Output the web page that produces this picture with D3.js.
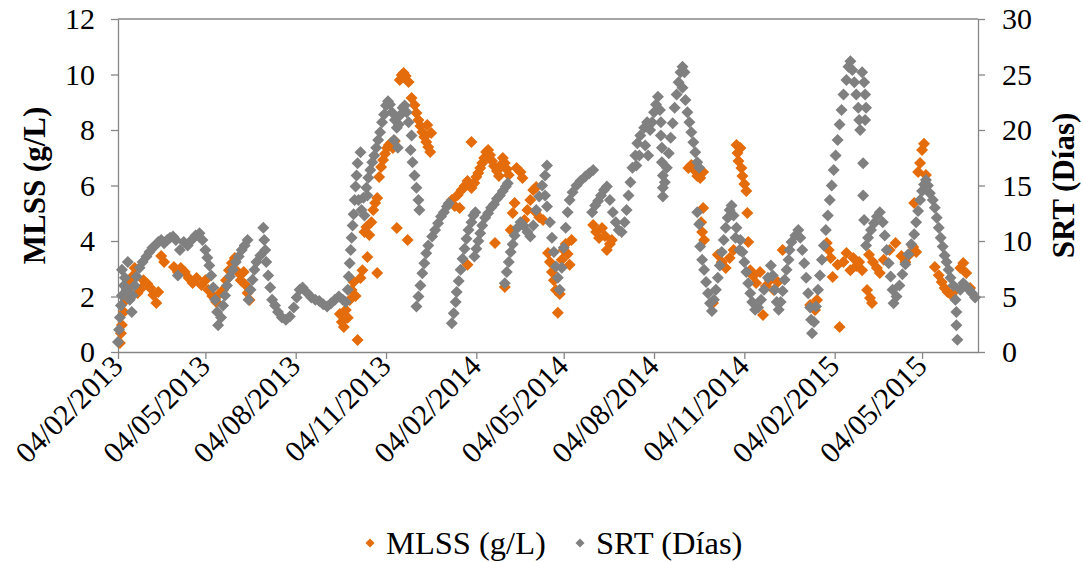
<!DOCTYPE html>
<html>
<head>
<meta charset="utf-8">
<script src="https://cdn.jsdelivr.net/npm/d3@7"></script>
<style>
  body { margin: 0; background: #fff; }
  svg { display: block; font-family: "Liberation Serif", "Times New Roman", serif; }
</style>
</head>
<body>
<div id="chart"></div>
<script>
// Axis range and labels
const startDate = '04/02/2013';
const endDate = '30/06/2015';
const xTickLabels = ['04/02/2013', '04/05/2013', '04/08/2013', '04/11/2013', '04/02/2014',
  '04/05/2014', '04/08/2014', '04/11/2014', '04/02/2015', '04/05/2015'];
const mlssTicks = [0, 2, 4, 6, 8, 10, 12];
const srtTicks = [0, 5, 10, 15, 20, 25, 30];

// MLSS (g/L): days since 04/02/2013 and values
const mlssDays = [
  2, 3, 4, 6, 8, 9, 11, 13, 15, 17,
  20, 23, 26, 30, 33, 36, 39, 41, 44, 47,
  57, 61, 64, 68, 72, 76, 80, 85, 89, 92,
  96, 100, 103, 107, 110, 113, 116, 119, 122, 125,
  128, 130, 132, 134, 226, 228, 230, 232, 234, 236,
  238, 240, 242, 244, 247, 249, 251, 253, 254, 256,
  258, 260, 262, 264, 264, 266, 268, 270, 272, 274,
  276, 278, 280, 282, 284, 287, 289, 291, 293, 295,
  296, 299, 302, 304, 306, 308, 310, 312, 314, 316,
  318, 315, 319, 340, 343, 346, 348, 350, 353, 356,
  356, 360, 360, 363, 365, 367, 369, 371, 373, 375,
  377, 379, 381, 383, 384, 386, 388, 390, 392, 394,
  394, 396, 398, 400, 402, 404, 406, 410, 412, 414,
  417, 420, 423, 426, 425, 429, 433, 438, 440, 442,
  444, 446, 448, 450, 452, 454, 456, 458, 460, 462,
  484, 487, 490, 493, 496, 498, 501, 503, 581, 584,
  587, 590, 593, 596, 596, 594, 595, 597, 606, 611,
  615, 619, 623, 627, 630, 631, 632, 634, 635, 636,
  638, 640, 641, 642, 644, 647, 650, 654, 657, 660,
  664, 668, 672, 677, 705, 710, 712, 722, 724, 726,
  728, 733, 735, 739, 742, 746, 749, 752, 755, 758,
  763, 766, 768, 765, 769, 773, 776, 780, 786, 792,
  798, 802, 806, 810, 813, 811, 815, 817, 819, 821,
  823, 832, 836, 839, 842, 845, 849, 853, 858, 861,
  864, 868
];
const mlssValues = [
  0.32, 0.68, 0.97, 1.44, 1.87, 2.23, 2.56, 2.38, 2.74, 3.03,
  2.13, 2.27, 2.59, 2.45, 2.31, 2.05, 1.77, 2.16, 3.46, 3.24,
  3.06, 2.88, 3.03, 2.88, 2.67, 2.49, 2.67, 2.41, 2.59, 2.23,
  2.02, 1.80, 2.09, 2.23, 2.59, 2.95, 3.21, 3.39, 2.88, 2.59,
  2.88, 2.41, 2.13, 1.87, 1.37, 1.08, 0.90, 1.51, 1.23, 1.87,
  2.23, 2.52, 2.02, 0.43, 2.67, 2.95, 4.32, 4.50, 3.42, 4.22,
  4.68, 5.12, 5.37, 2.85, 5.55, 6.31, 6.67, 6.92, 7.14, 7.35,
  7.46, 7.53, 7.35, 7.60, 4.47, 9.80, 9.98, 10.05, 9.95, 4.04,
  9.73, 9.15, 8.90, 8.61, 8.36, 8.14, 7.93, 7.75, 7.57, 7.39,
  7.21, 8.18, 7.89, 5.48, 5.26, 5.66, 5.19, 5.84, 5.98, 3.14,
  6.16, 5.91, 7.57, 6.09, 6.31, 6.45, 6.63, 6.81, 6.99, 7.21,
  7.28, 7.10, 6.88, 6.70, 3.93, 6.52, 6.34, 6.74, 6.99, 6.81,
  2.34, 6.59, 6.38, 4.40, 5.01, 5.37, 6.63, 6.49, 6.27, 4.76,
  5.12, 5.48, 5.84, 5.95, 5.05, 4.86, 4.76, 3.57, 3.24, 2.88,
  2.59, 2.23, 1.41, 2.09, 3.32, 3.68, 3.89, 3.53, 3.14, 4.04,
  4.58, 4.32, 4.11, 4.47, 4.18, 3.68, 3.89, 4.04, 6.63, 6.74,
  6.56, 6.34, 6.27, 6.49, 5.19, 4.68, 4.32, 4.04, 1.77, 3.50,
  3.24, 3.03, 3.39, 3.68, 7.46, 7.17, 6.88, 7.35, 6.63, 6.34,
  6.05, 5.80, 5.01, 3.96, 2.95, 2.74, 2.49, 2.88, 1.33, 2.38,
  2.59, 2.23, 2.52, 3.68, 1.69, 1.51, 1.87, 3.93, 3.68, 3.39,
  2.70, 3.14, 0.90, 3.24, 3.57, 2.95, 3.39, 3.10, 3.24, 2.95,
  2.23, 1.95, 1.77, 3.50, 3.24, 3.03, 2.85, 3.32, 3.68, 3.93,
  3.46, 3.24, 3.50, 3.78, 3.60, 5.37, 6.49, 6.81, 7.28, 7.50,
  6.38, 3.06, 2.77, 2.52, 2.31, 2.16, 2.05, 2.23, 3.03, 3.21,
  2.85, 2.31
];

// SRT (Días): days since 04/02/2013 and values
const srtDays = [
  0, 1, 2, 3, 4, 4, 6, 7, 9, 10,
  12, 14, 15, 17, 19, 22, 25, 29, 32, 35,
  38, 41, 44, 47, 50, 53, 56, 59, 61, 63,
  67, 71, 75, 79, 83, 86, 89, 91, 93, 95,
  97, 99, 101, 102, 105, 107, 109, 111, 114, 117,
  120, 123, 126, 129, 132, 133, 135, 137, 139, 141,
  145, 148, 149, 150, 151, 153, 155, 157, 160, 163,
  167, 171, 175, 179, 182, 185, 188, 193, 197, 201,
  205, 209, 213, 217, 221, 225, 229, 232, 234, 235,
  236, 237, 238, 239, 240, 241, 242, 243, 244, 247,
  245, 248, 250, 253, 255, 257, 259, 261, 263, 265,
  267, 269, 271, 273, 275, 277, 279, 282, 284, 286,
  288, 290, 292, 294, 296, 298, 299, 300, 302, 304,
  306, 307, 251, 254, 281, 285, 304, 306, 308, 310,
  312, 314, 316, 320, 323, 326, 329, 332, 335, 337,
  340, 342, 344, 345, 347, 349, 351, 353, 355, 357,
  360, 362, 364, 363, 365, 367, 369, 371, 374, 377,
  380, 383, 386, 389, 392, 395, 397, 394, 396, 398,
  400, 402, 404, 407, 410, 413, 417, 420, 423, 426,
  429, 432, 435, 437, 435, 437, 440, 442, 444, 446,
  448, 450, 452, 454, 456, 458, 460, 463, 467, 471,
  476, 480, 484, 483, 486, 489, 492, 495, 498, 501,
  504, 507, 510, 513, 516, 518, 520, 522, 524, 527,
  529, 532, 528, 531, 537, 540, 536, 539, 542, 544,
  546, 548, 550, 552, 553, 553, 554, 554, 555, 555,
  555, 557, 559, 561, 563, 565, 567, 569, 571, 573,
  575, 577, 578, 580, 582, 584, 586, 588, 590, 592,
  575, 590, 592, 593, 595, 597, 599, 601, 603, 605,
  607, 609, 611, 613, 615, 617, 619, 621, 623, 625,
  627, 630, 634, 636, 638, 629, 633, 640, 642, 644,
  646, 649, 652, 655, 658, 662, 665, 667, 669, 671,
  673, 675, 677, 679, 681, 683, 684, 686, 690, 693,
  695, 697, 699, 701, 703, 705, 706, 707, 709, 711,
  713, 715, 717, 719, 721, 723, 725, 727, 729, 731,
  733, 735, 737, 739, 742, 744, 746, 748, 750, 752,
  754, 755, 756, 758, 760, 761, 762, 761, 759, 759,
  760, 762, 764, 767, 770, 773, 776, 779, 781, 783,
  785, 787, 789, 790, 793, 796, 799, 802, 805, 808,
  811, 813, 815, 817, 819, 821, 823, 825, 827, 830,
  832, 834, 836, 838, 840, 842, 844, 846, 848, 851,
  853, 854, 854, 855, 858, 861, 864, 867, 870, 873
];
const srtValues = [
  0.9, 2.0, 3.1, 4.2, 5.1, 7.4, 6.0, 6.7, 5.6, 8.1,
  4.7, 3.6, 5.1, 6.0, 6.8, 7.6, 8.1, 8.6, 9.0, 9.4,
  9.6, 9.9, 10.1, 9.8, 10.1, 10.3, 10.4, 10.1, 6.9, 9.2,
  9.9, 9.6, 10.1, 10.5, 10.7, 10.1, 9.2, 8.5, 7.8, 6.9,
  5.8, 4.7, 3.6, 2.4, 3.1, 4.2, 5.1, 6.0, 6.8, 7.4,
  8.1, 8.6, 9.2, 9.6, 10.1, 4.7, 5.6, 6.5, 7.4, 8.1,
  8.7, 11.2, 10.1, 9.2, 8.1, 6.9, 5.8, 4.7, 4.2, 3.6,
  3.1, 2.9, 3.2, 4.0, 4.9, 5.6, 5.8, 5.3, 4.9, 4.7,
  4.6, 4.3, 4.1, 4.4, 4.7, 5.0, 4.7, 4.5, 5.6, 6.8,
  8.0, 9.2, 10.3, 11.4, 12.4, 13.7, 14.9, 15.9, 17.0, 18.0,
  13.7, 12.8, 13.9, 14.8, 15.7, 16.4, 17.1, 17.7, 18.4, 19.1,
  19.8, 20.7, 21.4, 22.2, 22.6, 22.3, 21.6, 20.9, 20.2, 20.5,
  21.4, 22.0, 22.2, 21.6, 20.7, 18.2, 19.5, 17.1, 15.9, 14.8,
  13.7, 12.8, 12.3, 14.1, 19.1, 18.4, 4.1, 5.0, 6.0, 7.1,
  8.0, 8.9, 9.6, 10.4, 11.0, 11.6, 12.2, 12.6, 13.1, 13.4,
  2.6, 3.5, 4.5, 5.4, 6.4, 7.4, 8.4, 9.3, 10.2, 11.0,
  11.7, 12.3, 12.6, 8.6, 9.3, 10.0, 10.7, 11.4, 12.1, 12.5,
  13.0, 13.3, 13.8, 14.1, 14.5, 14.9, 15.2, 6.2, 7.2, 8.1,
  9.0, 9.7, 10.5, 11.2, 11.7, 11.4, 10.8, 10.4, 11.4, 12.8,
  14.0, 15.0, 15.9, 16.8, 14.1, 13.1, 11.7, 10.3, 9.0, 7.7,
  6.7, 5.6, 7.6, 9.4, 11.2, 12.6, 13.7, 14.4, 15.0, 15.4,
  15.8, 16.1, 16.4, 12.6, 13.2, 13.6, 14.1, 14.6, 14.9, 13.7,
  12.6, 11.7, 11.0, 10.8, 11.7, 12.8, 14.1, 15.3, 16.6, 17.7,
  18.8, 19.5, 16.8, 17.7, 18.6, 17.7, 20.2, 20.7, 20.0, 20.7,
  21.6, 22.3, 23.0, 21.8, 20.7, 19.5, 18.4, 17.1, 15.9, 14.8,
  14.0, 15.3, 16.6, 17.9, 19.3, 20.6, 22.0, 23.2, 24.3, 25.2,
  25.7, 25.2, 22.7, 21.6, 20.7, 19.8, 18.9, 18.0, 17.1, 16.6,
  23.8, 12.6, 11.5, 9.5, 8.3, 7.4, 6.3, 5.3, 4.4, 3.7,
  4.7, 5.6, 6.7, 7.8, 9.0, 10.1, 11.2, 12.1, 12.8, 13.2,
  12.3, 11.2, 10.1, 9.0, 8.1, 10.3, 9.2, 7.2, 6.2, 5.3,
  4.5, 3.8, 4.0, 4.7, 5.6, 6.7, 7.8, 6.9, 5.6, 4.5,
  3.8, 4.5, 5.5, 6.5, 7.4, 8.3, 9.2, 9.9, 10.5, 11.0,
  10.3, 9.2, 8.0, 6.7, 5.3, 4.0, 2.9, 1.7, 2.7, 4.1,
  5.6, 6.9, 8.3, 9.6, 11.0, 12.3, 13.7, 15.0, 16.4, 17.7,
  19.1, 20.5, 21.8, 23.2, 24.5, 25.7, 26.2, 25.4, 24.3, 23.2,
  22.0, 20.9, 20.0, 25.2, 24.3, 23.2, 22.0, 20.9, 17.0, 14.1,
  11.9, 9.6, 10.3, 11.0, 11.6, 12.2, 12.6, 11.7, 10.5, 9.2,
  8.0, 6.8, 5.6, 4.4, 5.0, 6.0, 7.0, 7.9, 8.8, 9.7,
  10.6, 11.7, 12.7, 13.7, 14.5, 15.1, 15.5, 15.0, 14.3, 13.7,
  13.0, 12.1, 11.2, 10.3, 9.5, 8.7, 8.1, 7.4, 6.7, 6.0,
  4.7, 3.6, 2.4, 1.1, 5.6, 6.2, 5.9, 5.6, 5.3, 4.9
];

const parseDate = d3.timeParse('%d/%m/%Y');
const start = parseDate(startDate);
const mlssData = mlssDays.map((d, i) => ({ date: d3.timeDay.offset(start, d), value: mlssValues[i] }));
const srtData = srtDays.map((d, i) => ({ date: d3.timeDay.offset(start, d), value: srtValues[i] }));

const width = 1083;
const height = 562;
const margin = { top: 19, right: 105, bottom: 210, left: 118 };
const innerWidth = width - margin.left - margin.right;
const innerHeight = height - margin.top - margin.bottom;
const fontFamily = 'Liberation Serif, Times New Roman, serif';
const axisColor = '#868686';
const mlssColor = '#E46C0A';
const srtColor = '#808080';

const svg = d3.select('#chart')
  .append('svg')
  .attr('width', width)
  .attr('height', height)
  .attr('font-family', fontFamily);

const g = svg.append('g')
  .attr('transform', `translate(${margin.left}, ${margin.top})`);

// Scales
const x = d3.scaleTime()
  .domain([start, parseDate(endDate)])
  .range([0, innerWidth]);
const yLeft = d3.scaleLinear().domain([0, 12]).range([innerHeight, 0]);
const yRight = d3.scaleLinear().domain([0, 30]).range([innerHeight, 0]);

// Plot area top border
g.append('line')
  .attr('x1', 0).attr('x2', innerWidth)
  .attr('y1', 0).attr('y2', 0)
  .attr('stroke', axisColor)
  .attr('stroke-width', 1.3);

function styleAxis(sel) {
  sel.attr('font-family', fontFamily).attr('font-size', 30);
  sel.selectAll('path, line').attr('stroke', axisColor).attr('stroke-width', 1.3);
  sel.selectAll('text').attr('fill', '#000').attr('font-family', fontFamily);
}

// Left axis
g.append('g')
  .call(d3.axisLeft(yLeft).tickValues(mlssTicks).tickSize(7).tickSizeOuter(0).tickPadding(16))
  .call(styleAxis);

// Right axis
g.append('g')
  .attr('transform', `translate(${innerWidth}, 0)`)
  .call(d3.axisRight(yRight).tickValues(srtTicks).tickSize(7).tickSizeOuter(0).tickPadding(17))
  .call(styleAxis);

// Bottom axis with rotated labels
g.append('g')
  .attr('transform', `translate(0, ${innerHeight})`)
  .call(d3.axisBottom(x)
    .tickValues(xTickLabels.map(parseDate))
    .tickFormat(d3.timeFormat('%d/%m/%Y'))
    .tickSize(7)
    .tickSizeOuter(0))
  .call(styleAxis)
  .selectAll('text')
  .attr('x', 0)
  .attr('y', 0)
  .attr('dy', null)
  .attr('text-anchor', 'end')
  .attr('transform', 'translate(6, 16) rotate(-45)');

// Markers (square rotated into a diamond)
const diamond = d3.symbol().type(d3.symbolSquare).size(72);

g.append('g')
  .selectAll('path')
  .data(mlssData)
  .join('path')
  .attr('d', diamond)
  .attr('transform', d => `translate(${x(d.date)}, ${yLeft(d.value)}) rotate(45)`)
  .attr('fill', mlssColor);

g.append('g')
  .selectAll('path')
  .data(srtData)
  .join('path')
  .attr('d', diamond)
  .attr('transform', d => `translate(${x(d.date)}, ${yRight(d.value)}) rotate(45)`)
  .attr('fill', srtColor);

// Axis titles
svg.append('text')
  .attr('transform', `translate(45, ${margin.top + innerHeight / 2}) rotate(-90)`)
  .attr('text-anchor', 'middle')
  .attr('font-size', 31)
  .attr('font-weight', 'bold')
  .text('MLSS (g/L)');

svg.append('text')
  .attr('transform', `translate(1074, ${margin.top + innerHeight / 2}) rotate(-90)`)
  .attr('text-anchor', 'middle')
  .attr('font-size', 31)
  .attr('font-weight', 'bold')
  .text('SRT (Días)');

// Legend
const legendItems = [
  { label: 'MLSS (g/L)', color: mlssColor, x: 370 },
  { label: 'SRT (Días)', color: srtColor, x: 580 }
];
const legend = svg.selectAll('.legend')
  .data(legendItems)
  .join('g')
  .attr('class', 'legend')
  .attr('transform', d => `translate(${d.x}, 543)`);

legend.append('path')
  .attr('d', d3.symbol().type(d3.symbolSquare).size(40))
  .attr('transform', 'rotate(45)')
  .attr('fill', d => d.color);

legend.append('text')
  .attr('x', 16)
  .attr('y', 11)
  .attr('font-size', 32.5)
  .text(d => d.label);
</script>
</body>
</html>
